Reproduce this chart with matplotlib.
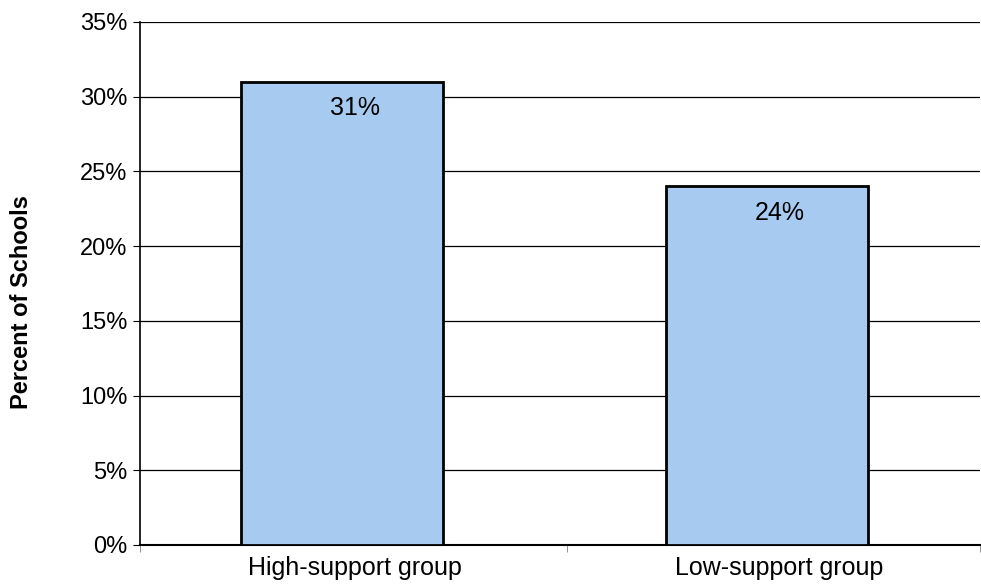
import matplotlib
matplotlib.use("Agg")
import matplotlib.pyplot as plt
from matplotlib.ticker import FixedLocator

plt.rcParams["font.family"] = ["Liberation Sans", "DejaVu Sans"]

groups = ["High-support group", "Low-support group"]
percent = [31, 24]
yticks = [0, 5, 10, 15, 20, 25, 30, 35]

fig = plt.figure(figsize=(9.81, 5.85), dpi=100)
ax = fig.add_axes([0.1427, 0.0684, 0.856, 0.894])

x = list(range(len(groups)))
ax.bar(x, percent, width=0.475, color="#A6CAF0", edgecolor="black", linewidth=2, zorder=3)
for xi, v in zip(x, percent):
    ax.text(xi + 0.03, v - 0.95, f"{v}%", ha="center", va="top", fontsize=18, zorder=4)

ax.set_xlim(-0.475, 1.501)
ax.set_ylim(0, 35)
ax.set_yticks(yticks)
ax.set_yticklabels([f"{t}%" for t in yticks], fontsize=17)
ax.yaxis.grid(True, color="black", linewidth=0.9, zorder=0)
ax.set_xticks([xi + 0.03 for xi in x])
ax.set_xticklabels(groups, fontsize=18)
ax.tick_params(axis="x", length=0, pad=8)
ax.xaxis.set_minor_locator(FixedLocator([-0.475, 0.53, 1.501]))
ax.tick_params(axis="x", which="minor", length=5, color="gray")
ax.tick_params(axis="y", length=5, direction="out", pad=4)

for s in ["top", "right"]:
    ax.spines[s].set_visible(False)
ax.spines["left"].set_linewidth(1.2)
ax.spines["bottom"].set_linewidth(1.5)

ax.set_ylabel("Percent of Schools", fontsize=17, fontweight="bold")
ax.yaxis.set_label_coords(-0.128, 0.465)

fig.savefig("out.png", dpi=100)
